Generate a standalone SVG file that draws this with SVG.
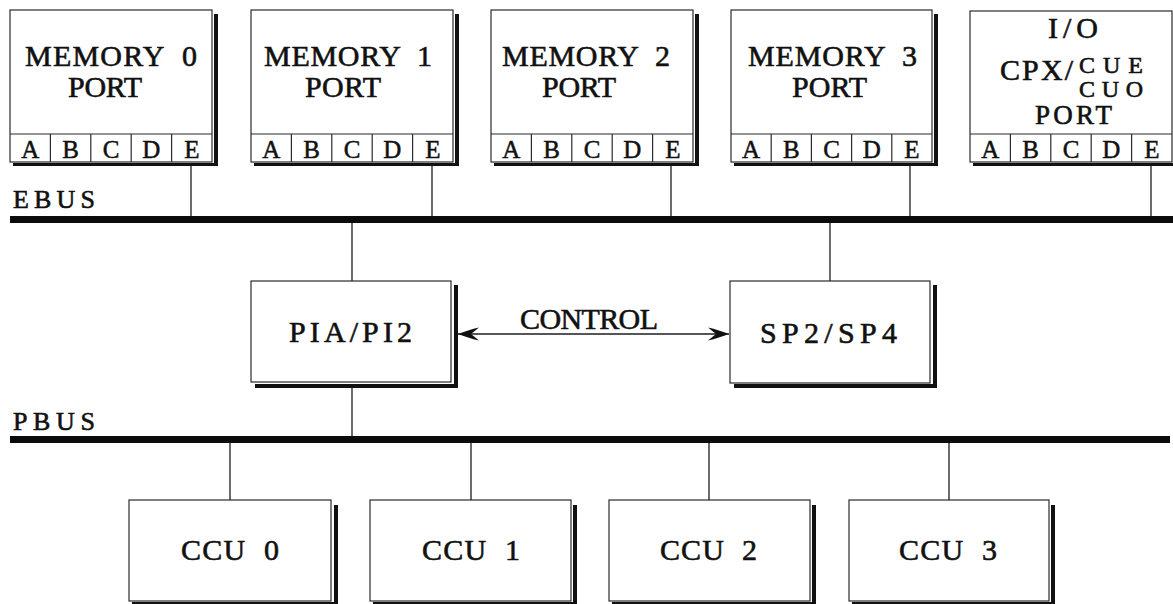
<svg xmlns="http://www.w3.org/2000/svg" width="1173" height="604" viewBox="0 0 1173 604">
  <style>
    .box { fill: #ffffff; stroke: #2b2b2b; stroke-width: 1.2; }
    .div { stroke: #2b2b2b; stroke-width: 1.2; fill: none; }
    .shadow { fill: #111111; }
    .wire { stroke: #1e1e1e; stroke-width: 1.3; fill: none; }
    .bus { fill: #0b0b0b; }
    .lbl { font-family: "Liberation Serif", "Times New Roman", serif; font-size: 30px; fill: #111111; stroke: #111111; stroke-width: 0.6; white-space: pre; }
    .cell { font-family: "Liberation Serif", "Times New Roman", serif; font-size: 25px; fill: #111111; stroke: #111111; stroke-width: 0.5; text-anchor: middle; }
    .sm { font-size: 26px; }
    .io2 { font-size: 24px; }
    .io3 { font-size: 27px; }
  </style>
  <defs>
    <marker id="barb" viewBox="-22 -8 23 16" refX="0" refY="0" markerWidth="23" markerHeight="16" markerUnits="userSpaceOnUse" orient="auto-start-reverse">
      <path d="M0,0 C-6,-2 -14,-5 -21,-6.5 L-13,0 L-21,6.5 C-14,5 -6,2 0,0 Z" fill="#111111"/>
    </marker>
  </defs>

  <rect width="1173" height="604" fill="#ffffff"/>

  <!-- memory ports -->
  <g id="mem0">
    <rect class="shadow" x="214" y="14" width="4" height="152"/>
    <rect class="shadow" x="13" y="163" width="205" height="3"/>
    <rect class="box" x="10" y="10" width="202" height="152"/>
    <path class="div" d="M10,134 H212 M50.4,134 V162 M90.8,134 V162 M131.2,134 V162 M171.6,134 V162"/>
    <text class="lbl" x="25" y="66" textLength="172">MEMORY  0</text>
    <text class="lbl" x="68" y="97" textLength="74">PORT</text>
    <text class="cell" x="30.2" y="158">A</text>
    <text class="cell" x="70.6" y="158">B</text>
    <text class="cell" x="111" y="158">C</text>
    <text class="cell" x="151.4" y="158">D</text>
    <text class="cell" x="191.8" y="158">E</text>
  </g>

  <g id="mem1">
    <rect class="shadow" x="455" y="14" width="4" height="152"/>
    <rect class="shadow" x="254" y="163" width="205" height="3"/>
    <rect class="box" x="251" y="10" width="202" height="152"/>
    <path class="div" d="M251,134 H453 M291.4,134 V162 M331.8,134 V162 M372.2,134 V162 M412.6,134 V162"/>
    <text class="lbl" x="264" y="66" textLength="168">MEMORY  1</text>
    <text class="lbl" x="305" y="97" textLength="76">PORT</text>
    <text class="cell" x="271.2" y="158">A</text>
    <text class="cell" x="311.6" y="158">B</text>
    <text class="cell" x="352" y="158">C</text>
    <text class="cell" x="392.4" y="158">D</text>
    <text class="cell" x="432.8" y="158">E</text>
  </g>

  <g id="mem2">
    <rect class="shadow" x="695" y="14" width="4" height="152"/>
    <rect class="shadow" x="494" y="163" width="205" height="3"/>
    <rect class="box" x="491" y="10" width="202" height="152"/>
    <path class="div" d="M491,134 H693 M531.4,134 V162 M571.8,134 V162 M612.2,134 V162 M652.6,134 V162"/>
    <text class="lbl" x="502" y="66" textLength="168">MEMORY  2</text>
    <text class="lbl" x="542" y="97" textLength="74">PORT</text>
    <text class="cell" x="511.2" y="158">A</text>
    <text class="cell" x="551.6" y="158">B</text>
    <text class="cell" x="592" y="158">C</text>
    <text class="cell" x="632.4" y="158">D</text>
    <text class="cell" x="672.8" y="158">E</text>
  </g>

  <g id="mem3">
    <rect class="shadow" x="934" y="14" width="4" height="152"/>
    <rect class="shadow" x="734" y="163" width="204" height="3"/>
    <rect class="box" x="731" y="10" width="201" height="152"/>
    <path class="div" d="M731,134 H932 M771.2,134 V162 M811.4,134 V162 M851.6,134 V162 M891.8,134 V162"/>
    <text class="lbl" x="748" y="66" textLength="169">MEMORY  3</text>
    <text class="lbl" x="792" y="97" textLength="75">PORT</text>
    <text class="cell" x="751.1" y="158">A</text>
    <text class="cell" x="791.3" y="158">B</text>
    <text class="cell" x="831.5" y="158">C</text>
    <text class="cell" x="871.7" y="158">D</text>
    <text class="cell" x="911.9" y="158">E</text>
  </g>

  <!-- I/O port -->
  <g id="io">
    <rect class="shadow" x="1174" y="15" width="4" height="151"/>
    <rect class="shadow" x="973" y="163" width="205" height="3"/>
    <rect class="box" x="970" y="11" width="202" height="151"/>
    <path class="div" d="M970,134 H1172 M1010.4,134 V162 M1050.8,134 V162 M1091.2,134 V162 M1131.6,134 V162"/>
    <text class="lbl" x="1048" y="38" textLength="50">I/O</text>
    <text class="lbl" x="1000" y="80" textLength="73">CPX/</text>
    <text class="lbl io2" x="1079" y="73" textLength="64">CUE</text>
    <text class="lbl io2" x="1079" y="97" textLength="64">CUO</text>
    <text class="lbl io3" x="1035" y="124" textLength="77">PORT</text>
    <text class="cell" x="990.2" y="158">A</text>
    <text class="cell" x="1030.6" y="158">B</text>
    <text class="cell" x="1071" y="158">C</text>
    <text class="cell" x="1111.4" y="158">D</text>
    <text class="cell" x="1151.8" y="158">E</text>
  </g>

  <!-- buses -->
  <g id="ebus">
    <rect class="bus" x="10" y="216" width="1163" height="7"/>
    <text class="lbl sm" x="13" y="208" textLength="82">EBUS</text>
  </g>
  <g id="pbus">
    <rect class="bus" x="10" y="436" width="1160" height="7"/>
    <text class="lbl sm" x="13" y="430" textLength="82">PBUS</text>
  </g>

  <!-- processors -->
  <g id="pia">
    <rect class="shadow" x="454" y="285" width="4" height="103"/>
    <rect class="shadow" x="255" y="384" width="203" height="4"/>
    <rect class="box" x="251" y="281" width="200" height="101"/>
    <text class="lbl" x="289" y="342" textLength="123">PIA/PI2</text>
  </g>

  <g id="sp">
    <rect class="shadow" x="933" y="285" width="4" height="103"/>
    <rect class="shadow" x="734" y="384" width="203" height="4"/>
    <rect class="box" x="730" y="281" width="200" height="102"/>
    <text class="lbl" x="760" y="343" textLength="137">SP2/SP4</text>
  </g>

  <!-- channel control units -->
  <g id="ccu0">
    <rect class="shadow" x="334" y="505" width="4" height="99"/>
    <rect class="shadow" x="132" y="602" width="206" height="3"/>
    <rect class="box" x="129" y="500" width="202" height="101"/>
    <text class="lbl" x="181" y="560" textLength="98">CCU  0</text>
  </g>
  <g id="ccu1">
    <rect class="shadow" x="573" y="505" width="4" height="99"/>
    <rect class="shadow" x="373" y="602" width="204" height="3"/>
    <rect class="box" x="370" y="500" width="201" height="101"/>
    <text class="lbl" x="422" y="560" textLength="98">CCU  1</text>
  </g>
  <g id="ccu2">
    <rect class="shadow" x="812" y="505" width="4" height="99"/>
    <rect class="shadow" x="612" y="602" width="204" height="3"/>
    <rect class="box" x="609" y="500" width="201" height="101"/>
    <text class="lbl" x="660" y="560" textLength="97">CCU  2</text>
  </g>
  <g id="ccu3">
    <rect class="shadow" x="1051" y="505" width="4" height="99"/>
    <rect class="shadow" x="852" y="602" width="203" height="3"/>
    <rect class="box" x="849" y="500" width="200" height="101"/>
    <text class="lbl" x="899" y="560" textLength="98">CCU  3</text>
  </g>

  <!-- connectors -->
  <g id="connectors">
    <path class="wire" d="M191,166 V216 M432,166 V216 M671,166 V216 M910,166 V216 M1151,166 V216"/>
    <path class="wire" d="M352,223 V281 M830,223 V281"/>
    <path class="wire" d="M352,388 V436"/>
    <path class="wire" d="M230,443 V500 M471,443 V500 M709,443 V500 M949,443 V500"/>
    <line class="wire" x1="458" y1="334" x2="729" y2="334" stroke-width="1.5" marker-start="url(#barb)" marker-end="url(#barb)"/>
    <text class="lbl" x="520" y="329" textLength="138">CONTROL</text>
  </g>
</svg>
